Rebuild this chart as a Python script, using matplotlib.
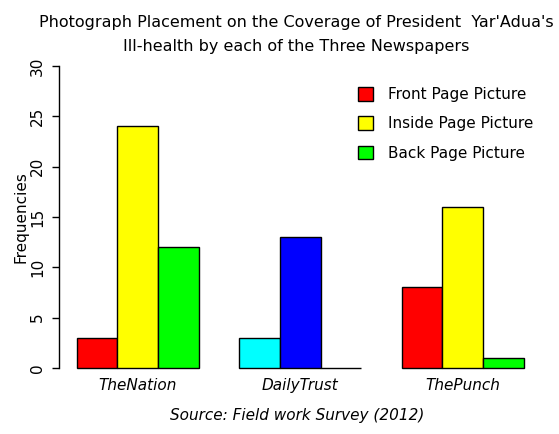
import matplotlib
matplotlib.use("Agg")
import matplotlib.pyplot as plt
import numpy as np
from matplotlib.patches import Patch

newspapers = ["TheNation", "DailyTrust", "ThePunch"]
series = ["Front Page Picture", "Inside Page Picture", "Back Page Picture"]
front = [3, 3, 8]
inside = [24, 13, 16]
back = [12, 0, 1]
yticks = [0, 5, 10, 15, 20, 25, 30]

group_colors = [
    ["#FF0000", "#FFFF00", "#00FF00"],
    ["#00FFFF", "#0000FF", "#FFFFFF"],
    ["#FF0000", "#FFFF00", "#00FF00"],
]
legend_colors = ["#FF0000", "#FFFF00", "#00FF00"]

fig = plt.figure(figsize=(5.59, 4.34), dpi=100)
ax = fig.add_axes([0.1055, 0.1244, 0.8632, 0.7512])

values = np.array([front, inside, back])  # series x groups
for g in range(len(newspapers)):
    for s in range(len(series)):
        left = 1 + 4 * g + s
        ax.bar(left, values[s, g], width=1, align="edge",
               color=group_colors[g][s], edgecolor="black", linewidth=1.0)

ax.set_xlim(0.56, 12.44)
ax.set_ylim(-1.2, 31.2)
for sp in ["top", "right", "bottom"]:
    ax.spines[sp].set_visible(False)
ax.spines["left"].set_bounds(0, 30)
ax.spines["left"].set_linewidth(1.0)
ax.set_yticks(yticks)
ax.set_yticklabels([str(v) for v in yticks], rotation=90, va="center",
                   fontsize=11)
ax.tick_params(axis="y", length=5, width=1.0, pad=5)
ax.set_xticks([2.5 + 4 * g for g in range(len(newspapers))])
ax.set_xticklabels(newspapers, fontstyle="italic", fontsize=11)
ax.tick_params(axis="x", length=0, pad=-1.5)
ax.set_ylabel("Frequencies", fontsize=11, labelpad=1)

fig.text(0.53, 0.965, "Photograph Placement on the Coverage of President  Yar'Adua's\nIll-health by each of the Three Newspapers",
         ha="center", va="top", fontsize=11.5, linespacing=1.75)
fig.text(0.532, 0.043, "Source: Field work Survey (2012)", ha="center",
         va="center", fontstyle="italic", fontsize=11)

handles = [Patch(facecolor=c, edgecolor="black", linewidth=1.0) for c in legend_colors]
ax.legend(handles, series, loc="upper right", bbox_to_anchor=(1.012, 0.94),
          frameon=False, fontsize=11, handlelength=1.0, handleheight=1.0,
          handletextpad=1.0, labelspacing=0.92)

fig.savefig("out.png", dpi=100)
